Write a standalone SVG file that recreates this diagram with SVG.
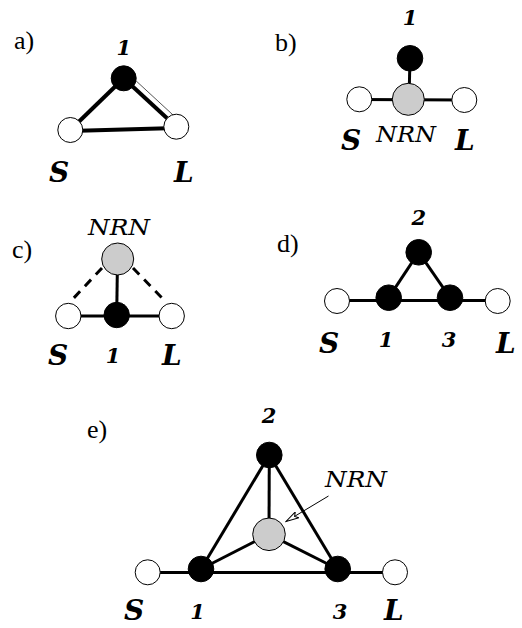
<svg xmlns="http://www.w3.org/2000/svg" width="522" height="628" viewBox="0 0 522 628">
<style>
.bg{fill:#fff}
.e{stroke:#000;stroke-width:3;fill:none}
.ea{stroke:#000;stroke-width:4;fill:none}
.d{stroke:#000;stroke-width:3;fill:none;stroke-dasharray:9 7}
.w{fill:#fff;stroke:#000;stroke-width:1}
.k{fill:#000;stroke:#000;stroke-width:1}
.g{fill:#cccccc;stroke:#000;stroke-width:1}
.p{font-family:"Liberation Serif",serif;font-size:26px}
.n{font-family:"DejaVu Serif",serif;font-size:21px;font-weight:bold;font-style:italic;text-anchor:middle}
.sl{font-family:"DejaVu Serif",serif;font-size:28px;font-weight:bold;font-style:italic}
.r{font-family:"DejaVu Serif",serif;font-size:23px;font-style:italic}
</style>
<defs>
<marker id="ah" viewBox="0 0 14 8" refX="13" refY="4" markerWidth="14" markerHeight="8" markerUnits="userSpaceOnUse" orient="auto">
<path d="M0,0.5 L13,4 L0,7.5 L3,4 Z" fill="#fff" stroke="#000" stroke-width="1"/>
</marker>
</defs>
<rect class="bg" x="0" y="0" width="522" height="628"/>

<g id="labels">
<text class="p" x="14" y="49">a)</text>
<text class="p" x="275" y="51">b)</text>
<text class="p" x="12" y="258">c)</text>
<text class="p" x="277" y="252">d)</text>
<text class="p" x="87" y="438">e)</text>
</g>

<g id="connectors">
<!-- a -->
<line class="ea" x1="123.7" y1="78.3" x2="70.3" y2="130"/>
<line class="ea" x1="70.3" y1="131" x2="176.3" y2="128"/>
<line class="ea" x1="123.7" y1="78.3" x2="176.3" y2="126.7"/>
<line stroke="#555" stroke-width="1" x1="127" y1="72.5" x2="179" y2="120.5"/>
<!-- b -->
<line class="e" x1="410" y1="58.3" x2="409" y2="99.3"/>
<line class="e" x1="359.3" y1="99.5" x2="464.3" y2="100"/>
<!-- c -->
<line class="d" x1="102" y1="268" x2="70" y2="302"/>
<line class="d" x1="133" y1="268" x2="165" y2="301"/>
<line class="e" x1="117.5" y1="259" x2="116.7" y2="315"/>
<line class="e" x1="68.3" y1="316" x2="171.7" y2="316"/>
<!-- d -->
<line class="e" x1="337" y1="300.5" x2="497.7" y2="300.5"/>
<line class="e" x1="418.7" y1="252.3" x2="388.7" y2="297.7"/>
<line class="e" x1="418.7" y1="252.3" x2="450" y2="297.7"/>
<!-- e -->
<line class="e" x1="147.7" y1="572.5" x2="395" y2="572.5"/>
<line class="e" x1="269.3" y1="455" x2="201" y2="569"/>
<line class="e" x1="269.3" y1="455" x2="337.7" y2="569"/>
<line class="e" x1="269.3" y1="455" x2="269" y2="534.3"/>
<line class="e" x1="269" y1="534.3" x2="201" y2="569"/>
<line class="e" x1="269" y1="534.3" x2="337.7" y2="569"/>
<line stroke="#000" stroke-width="1" x1="328.5" y1="496" x2="286" y2="521.5" marker-end="url(#ah)"/>
</g>

<g id="a-1"><circle class="k" cx="123.7" cy="78.3" r="12.5"/><text class="n" x="123.7" y="55">1</text></g>
<g id="a-S"><circle class="w" cx="70.3" cy="130" r="12.5"/><text class="sl" x="49" y="182">S</text></g>
<g id="a-L"><circle class="w" cx="176.3" cy="126.7" r="12.5"/><text class="sl" x="174" y="182">L</text></g>

<g id="b-1"><circle class="k" cx="410" cy="58.3" r="12.8"/><text class="n" x="410" y="25">1</text></g>
<g id="b-NRN"><circle class="g" cx="408.3" cy="99.3" r="16"/><text class="r" x="376" y="142" textLength="60" lengthAdjust="spacingAndGlyphs">NRN</text></g>
<g id="b-S"><circle class="w" cx="359.3" cy="99.3" r="12.5"/><text class="sl" x="341" y="150">S</text></g>
<g id="b-L"><circle class="w" cx="464.3" cy="100" r="12.5"/><text class="sl" x="455" y="150">L</text></g>

<g id="c-NRN"><circle class="g" cx="117.7" cy="259" r="16"/><text class="r" x="88" y="235" textLength="62" lengthAdjust="spacingAndGlyphs">NRN</text></g>
<g id="c-1"><circle class="k" cx="116.7" cy="315" r="12.7"/><text class="n" x="113" y="363">1</text></g>
<g id="c-S"><circle class="w" cx="68.3" cy="316" r="12.7"/><text class="sl" x="48" y="365">S</text></g>
<g id="c-L"><circle class="w" cx="171.7" cy="316" r="12.7"/><text class="sl" x="162" y="365">L</text></g>

<g id="d-2"><circle class="k" cx="418.7" cy="252.3" r="12.8"/><text class="n" x="418.7" y="225">2</text></g>
<g id="d-1"><circle class="k" cx="388.7" cy="297.7" r="12.8"/><text class="n" x="386" y="347">1</text></g>
<g id="d-3"><circle class="k" cx="450" cy="297.7" r="12.8"/><text class="n" x="449" y="347">3</text></g>
<g id="d-S"><circle class="w" cx="337" cy="301" r="12.5"/><text class="sl" x="319" y="353">S</text></g>
<g id="d-L"><circle class="w" cx="497.7" cy="301" r="12.5"/><text class="sl" x="496" y="353">L</text></g>

<g id="e-2"><circle class="k" cx="269.3" cy="455" r="12.8"/><text class="n" x="269" y="423">2</text></g>
<g id="e-NRN"><circle class="g" cx="269" cy="534.3" r="16.3"/><text class="r" x="325" y="487" textLength="62" lengthAdjust="spacingAndGlyphs">NRN</text></g>
<g id="e-1"><circle class="k" cx="201" cy="569" r="12.8"/><text class="n" x="197.5" y="619">1</text></g>
<g id="e-3"><circle class="k" cx="337.7" cy="569" r="12.8"/><text class="n" x="340" y="619">3</text></g>
<g id="e-S"><circle class="w" cx="147.7" cy="572.3" r="12.5"/><text class="sl" x="124" y="620" font-size="27">S</text></g>
<g id="e-L"><circle class="w" cx="395" cy="572.3" r="12.5"/><text class="sl" x="384" y="620" font-size="27">L</text></g>
</svg>
